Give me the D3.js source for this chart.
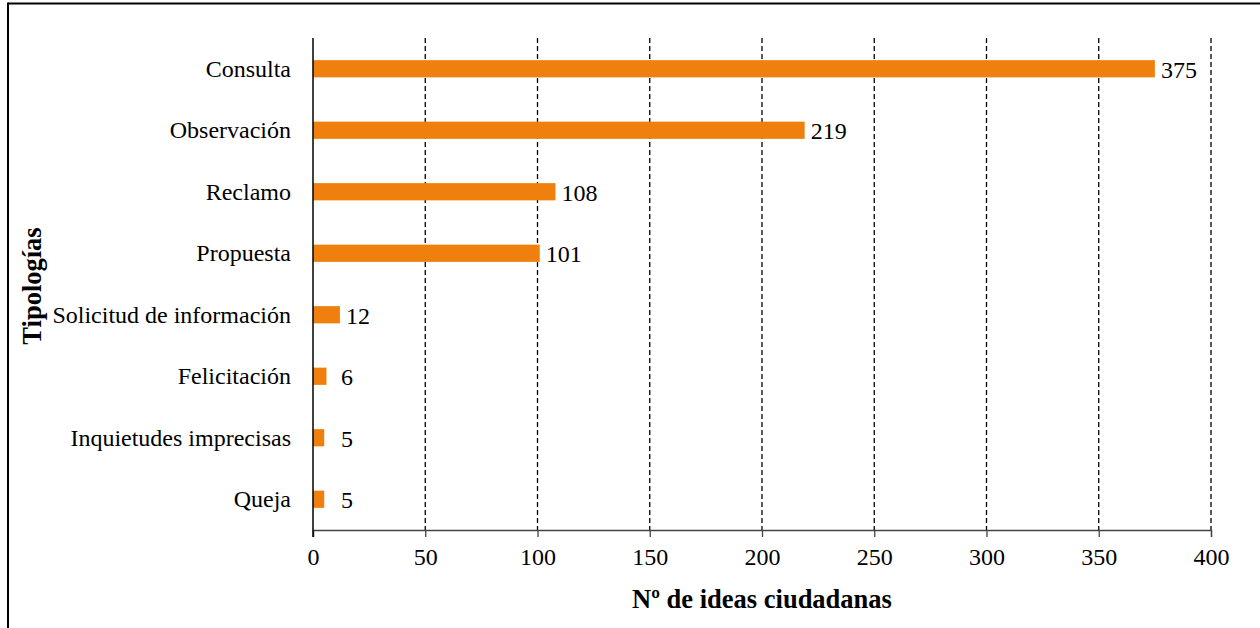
<!DOCTYPE html>
<html><head><meta charset="utf-8">
<script src="https://cdn.jsdelivr.net/npm/d3@7"></script>
<style>body{margin:0;background:#fff}svg{display:block}text{font-family:"Liberation Serif","Times New Roman",serif;fill:#000}</style>
</head><body>
<svg id="c" width="1260" height="628"></svg>
<script>
const categories = ["Consulta","Observación","Reclamo","Propuesta","Solicitud de información","Felicitación","Inquietudes imprecisas","Queja"];
const values = [375,219,108,101,12,6,5,5];
const xTicks = [0,50,100,150,200,250,300,350,400];
const xTitle = "Nº de ideas ciudadanas";
const yTitle = "Tipologías";
const caption = "Figura 3. Tipologías de ideas ciudadanas recogidas en el proceso de participación";

const svg = d3.select("#c");
const m = {left:313, right:1211, top:38, bottom:530};
const x = d3.scaleLinear().domain([0,400]).range([m.left,m.right]);
const y = d3.scaleBand().domain(categories).range([m.top,m.bottom]).paddingInner(0.72).paddingOuter(0.36);

// frame + cut caption (only descenders visible, as in the reference)
svg.append("text").attr("x",40).attr("y",-7).attr("font-size",22).attr("font-weight","bold").text(caption);
svg.append("line").attr("x1",8).attr("x2",1260).attr("y1",3.5).attr("y2",3.5).attr("stroke","#000").attr("stroke-width",2);
svg.append("line").attr("x1",8).attr("x2",8).attr("y1",2.5).attr("y2",628).attr("stroke","#000").attr("stroke-width",2);

// grid
svg.append("g").selectAll("line").data(xTicks.filter(d=>d>0)).join("line")
  .attr("x1",d=>x(d)).attr("x2",d=>x(d)).attr("y1",m.top).attr("y2",m.bottom)
  .attr("stroke","#000").attr("stroke-width",1.3).attr("stroke-dasharray","5,3");

// x axis
const xa = svg.append("g").attr("transform",`translate(0,${m.bottom})`)
  .call(d3.axisBottom(x).tickValues(xTicks).tickSize(7).tickPadding(11));
xa.select(".domain").attr("stroke","#444").attr("stroke-width",1.3);
xa.selectAll(".tick line").attr("stroke","#444").attr("stroke-width",1.3);
xa.selectAll("text").attr("font-size",24).attr("font-family",'"Liberation Serif",serif').attr("fill","#000");

// bars
svg.append("g").selectAll("rect").data(values).join("rect")
  .attr("x",x(0)).attr("y",(d,i)=>y(categories[i]))
  .attr("width",d=>x(d)-x(0)).attr("height",y.bandwidth())
  .attr("fill","#F0800D");

// y axis line
svg.append("line").attr("x1",x(0)).attr("x2",x(0)).attr("y1",m.top).attr("y2",m.bottom+7)
  .attr("stroke","#000").attr("stroke-width",1.5);

// category labels
svg.append("g").selectAll("text").data(categories).join("text")
  .attr("x",x(0)-22).attr("y",d=>y(d)+y.bandwidth()/2+8)
  .attr("text-anchor","end").attr("font-size",24).text(d=>d);

// value labels
svg.append("g").selectAll("text").data(values).join("text")
  .attr("x",d=>Math.max(x(d)+6, x(0)+28)).attr("y",(d,i)=>y(categories[i])+y.bandwidth()/2+9)
  .attr("font-size",24).text(d=>d);

// titles
svg.append("text").attr("x",(m.left+m.right)/2).attr("y",608).attr("text-anchor","middle")
  .attr("font-size",26.5).attr("font-weight","bold").text(xTitle);
svg.append("text").attr("transform",`translate(41,${(m.top+m.bottom)/2+2}) rotate(-90)`)
  .attr("text-anchor","middle").attr("font-size",26.5).attr("font-weight","bold").text(yTitle);
</script>
</body></html>
